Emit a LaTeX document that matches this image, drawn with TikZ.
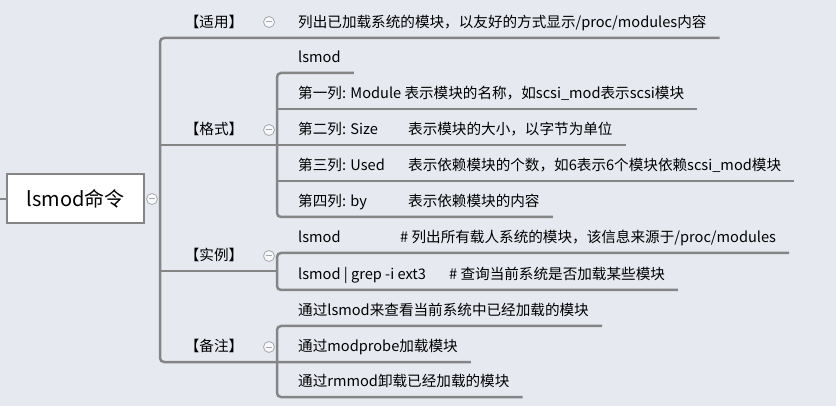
\documentclass[tikz,border=0pt]{standalone}
\usepackage{fontspec}
\setmainfont{Noto Sans CJK SC}
\definecolor{bgGray}{HTML}{E6E9F0}
\definecolor{lineGray}{HTML}{858585}
\definecolor{foldGray}{HTML}{A4A8AE}
\newcommand{\colhead}[1]{\makebox[110pt][l]{#1}}
\begin{document}
\begin{tikzpicture}[x=1pt,y=-1pt]
\tikzstyle{rootBox}=[rectangle,draw=lineGray,line width=2pt,fill=white,minimum width=137pt,minimum height=49pt,inner sep=0pt,font=\fontsize{20}{24}\selectfont]
\tikzstyle{topic}=[anchor=south,inner sep=0pt,text height=11pt,text depth=10pt,font=\fontsize{14.6}{18}\selectfont]
\tikzstyle{leaf}=[anchor=south west,inner xsep=13pt,inner ysep=0pt,text height=11pt,text depth=10pt,font=\fontsize{14.6}{18}\selectfont]
\tikzstyle{fold}=[circle,draw=foldGray,fill=bgGray!30!white,minimum size=11pt,inner sep=0pt,line width=0.8pt,
  path picture={\draw[foldGray,line width=1pt] ([xshift=-3pt]path picture bounding box.center) -- ([xshift=3pt]path picture bounding box.center);}]
\tikzstyle{branch}=[draw=lineGray,line width=2.5pt,rounded corners=4pt]

\useasboundingbox[fill=bgGray] (0,0) rectangle (836,406);

%root.
\coordinate (stub) at (0,199);
\node[rootBox] (root) at (75.5,199) {lsmod命令};
\draw[branch] (stub) -- (root.west);
\node[fold] (rootFold) at (152,199) {};

%get topics.
\node[topic] (useTopic) at (214,38) {【适用】};\node[fold] (useFold) at (269,22) {};
\node[topic] (fmtTopic) at (214,145) {【格式】};\node[fold] (fmtFold) at (269,130) {};
\node[topic] (exTopic) at (214,271) {【实例】};\node[fold] (exFold) at (269,256) {};
\node[topic] (noteTopic) at (214,362) {【备注】};\node[fold] (noteFold) at (269,347) {};

%leaves.
\node[leaf] (useText) at (285,38) {列出已加载系统的模块，以友好的方式显示/proc/modules内容};

\node[leaf] (fmtCmd) at (285,73) {lsmod};
\node[leaf] (colOne) at (285,109) {第一列: Module 表示模块的名称，如scsi\_mod表示scsi模块};
\node[leaf] (colTwo) at (285,145) {\colhead{第二列: Size}表示模块的大小，以字节为单位};
\node[leaf] (colThree) at (285,181) {\colhead{第三列: Used}表示依赖模块的个数，如6表示6个模块依赖scsi\_mod模块};
\node[leaf] (colFour) at (285,217) {\colhead{第四列: by}表示依赖模块的内容};

\node[leaf] (exList) at (285,253) {\makebox[102pt][l]{lsmod}\# 列出所有载人系统的模块，该信息来源于/proc/modules};
\node[leaf] (exGrep) at (285,290) {\makebox[151pt][l]{lsmod | grep -i ext3}\# 查询当前系统是否加载某些模块};

\node[leaf] (noteView) at (285,326) {通过lsmod来查看当前系统中已经加载的模块};
\node[leaf] (noteLoad) at (285,362) {通过modprobe加载模块};
\node[leaf] (noteRemove) at (285,397) {通过rmmod卸载已经加载的模块};

%main trunk.
\coordinate (trunkTop) at (160,38);
\coordinate (trunkBot) at (160,362);
\draw[branch] (useText.south east) -- (trunkTop) -- (trunkBot) -- (noteLoad.south east);
\draw[branch] (trunkTop |- colTwo.south) -- (colTwo.south east);

%format branch.
\coordinate (fmtTop) at (277,73);
\coordinate (fmtBot) at (277,217);
\draw[branch] (fmtCmd.south east) -- (fmtTop) -- (fmtBot) -- (colFour.south east);
\draw[branch] (fmtTop |- colOne.south) -- (colOne.south east);
\draw[branch] (fmtTop |- colThree.south) -- (colThree.south east);

%example branch.
\coordinate (exTop) at (277,253);
\coordinate (exBot) at (277,290);
\draw[branch] (exList.south east) -- (exTop) -- (exBot) -- (exGrep.south east);
\draw[branch] (trunkTop |- exTopic.south) -- (exTop |- exTopic.south);

%note branch.
\coordinate (noteTop) at (277,326);
\coordinate (noteBot) at (277,397);
\draw[branch] (noteView.south east) -- (noteTop) -- (noteBot) -- (noteRemove.south east);

\end{tikzpicture}
\end{document}
